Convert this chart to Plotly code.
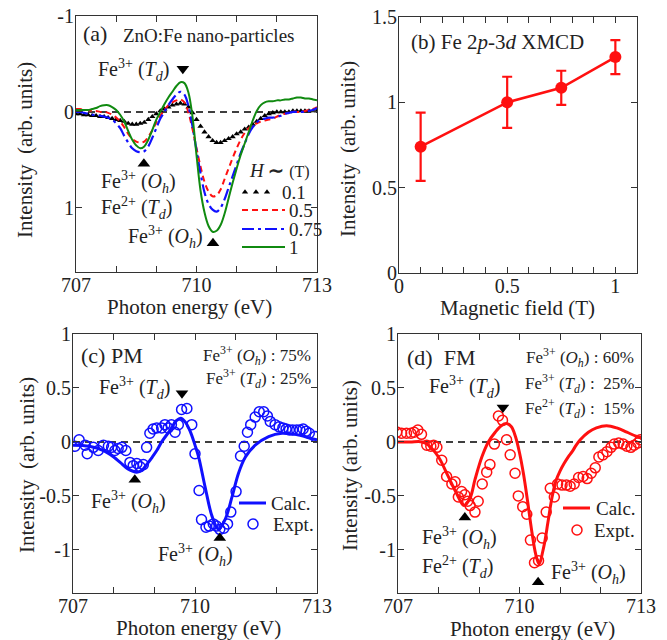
import numpy as np
import plotly.graph_objects as go

W, H = 667, 640
FONT = "Liberation Serif"
TXT = "#222222"

# ---------------- data ----------------
# panel (a): XMCD spectra vs field (0.1 eV grid 707..713)
energy_a = np.round(np.arange(707.0, 713.0001, 0.1), 1)
xmcd_01 = [0.02, 0.02, 0.03, 0.03, 0.04, 0.04, 0.05, 0.05, 0.06, 0.07,
           0.08, 0.09, 0.10, 0.12, 0.13, 0.13, 0.12, 0.11, 0.08, 0.05,
           0.02, -0.01, -0.03, -0.05, -0.07, -0.08, -0.09, -0.08, -0.05, 0.01,
           0.08, 0.15, 0.21, 0.26, 0.30, 0.32, 0.32, 0.30, 0.28, 0.26,
           0.23, 0.21, 0.18, 0.16, 0.13, 0.10, 0.07, 0.04, 0.02, 0.01,
           0.0, 0.0, 0.0, 0.0, -0.01, -0.01, -0.01, -0.01, -0.01, -0.01,
           -0.01]
xmcd_05 = [-0.03, -0.03, -0.02, -0.02, -0.01, -0.01, 0.0, 0.0, 0.01, 0.03,
           0.06, 0.10, 0.16, 0.23, 0.28, 0.31, 0.32, 0.31, 0.26, 0.19,
           0.11, 0.04, -0.02, -0.07, -0.10, -0.12, -0.13, -0.10, 0.01, 0.18,
           0.38, 0.57, 0.73, 0.83, 0.88, 0.87, 0.81, 0.70, 0.59, 0.48,
           0.38, 0.29, 0.22, 0.17, 0.14, 0.12, 0.10, 0.09, 0.08, 0.07,
           0.05, 0.03, 0.02, 0.01, 0.0, 0.0, 0.0, -0.01, -0.02, -0.03,
           -0.05]
xmcd_075 = [0.0, 0.0, 0.01, 0.02, 0.03, 0.03, 0.04, 0.05, 0.06, 0.08,
            0.12, 0.17, 0.25, 0.32, 0.38, 0.41, 0.42, 0.41, 0.36, 0.27,
            0.17, 0.07, 0.0, -0.07, -0.13, -0.18, -0.21, -0.18, -0.06, 0.15,
            0.40, 0.64, 0.84, 0.96, 1.02, 1.04, 1.00, 0.91, 0.79, 0.67,
            0.55, 0.43, 0.33, 0.23, 0.16, 0.11, 0.08, 0.07, 0.06, 0.06,
            0.05, 0.04, 0.02, 0.01, 0.0, 0.0, 0.0, 0.0, -0.01, -0.02,
            -0.04]
xmcd_1 = [-0.02, -0.02, -0.02, -0.02, -0.03, -0.04, -0.06, -0.07, -0.07, -0.05,
          -0.02, 0.03, 0.10, 0.20, 0.29, 0.35, 0.38, 0.36, 0.29, 0.19,
          0.08, 0.0, -0.08, -0.15, -0.21, -0.27, -0.31, -0.30, -0.20, 0.05,
          0.45, 0.82, 1.05, 1.19, 1.25, 1.24, 1.18, 1.06, 0.90, 0.74,
          0.59, 0.45, 0.33, 0.21, 0.09, -0.01, -0.07, -0.10, -0.11, -0.11,
          -0.12, -0.12, -0.13, -0.13, -0.14, -0.15, -0.15, -0.14, -0.14, -0.13,
          -0.12]
field_labels = ["0.1", "0.5", "0.75", "1"]

# feature markers (a)
a_down_x, a_down_y = [709.66], [-0.45]
a_up_x, a_up_y = [708.69, 710.41], [0.54, 1.37]

# panel (b): XMCD intensity vs field
field_b = [0.1, 0.5, 0.75, 1.0]
intensity_b = [0.74, 1.00, 1.085, 1.265]
error_b = [0.20, 0.15, 0.10, 0.10]

# panel (c): PM
calc_c_x = [707.0, 707.4, 707.75, 708.0, 708.16, 708.35, 708.57, 708.7, 708.81, 708.95,
            709.06, 709.18, 709.39, 709.55, 709.65, 709.75, 709.88, 710.0, 710.09, 710.25,
            710.42, 710.58, 710.74, 710.91, 711.07, 711.24, 711.48, 711.81, 712.14, 712.47,
            712.88, 713.0]
calc_c_y = [-0.03, -0.04, -0.08, -0.14, -0.19, -0.25, -0.28, -0.26, -0.21, -0.14,
            -0.08, 0.0, 0.11, 0.20, 0.22, 0.19, 0.10, -0.03, -0.14, -0.42,
            -0.69, -0.81, -0.72, -0.51, -0.29, -0.14, -0.03, 0.05, 0.08, 0.07,
            0.03, 0.02]
expt_c_x = [707.05, 707.15, 707.30, 707.35, 707.50, 707.62, 707.75, 707.87, 707.95, 708.03,
            708.11, 708.20, 708.30, 708.40, 708.48, 708.57, 708.65, 708.73, 708.81, 708.89,
            708.97, 709.06, 709.18, 709.26, 709.34, 709.42, 709.51, 709.59, 709.67, 709.80,
            709.92, 710.00, 710.10, 710.16, 710.27, 710.35, 710.45, 710.53, 710.61, 710.71,
            710.80, 710.88, 711.01, 711.12, 711.21, 711.29, 711.37, 711.48, 711.58, 711.69,
            711.78, 711.85, 711.97, 712.07, 712.16, 712.24, 712.32, 712.40, 712.50, 712.58,
            712.66, 712.73, 712.81, 712.95]
expt_c_y = [-0.04, 0.02, -0.03, -0.11, -0.05, -0.08, -0.03, -0.04, -0.05, -0.08,
            -0.06, -0.05, -0.08, -0.19, -0.22, -0.20, -0.23, -0.21, -0.05, 0.08,
            0.12, 0.13, 0.13, 0.16, 0.13, 0.16, 0.09, 0.16, 0.30, 0.31,
            0.16, -0.11, -0.45, -0.72, -0.79, -0.78, -0.76, -0.78, -0.81, -0.80,
            -0.76, -0.65, -0.46, -0.13, -0.04, 0.09, 0.16, 0.23, 0.28, 0.28,
            0.24, 0.19, 0.16, 0.14, 0.13, 0.12, 0.11, 0.11, 0.11, 0.11,
            0.12, 0.10, 0.08, 0.05]
c_down_x, c_down_y = [709.68], [0.45]
c_up_x, c_up_y = [708.52, 710.61], [-0.35, -0.89]

# panel (d): FM
calc_d_x = [707.0, 707.3, 707.6, 707.75, 708.0, 708.24, 708.45, 708.63, 708.78, 708.9,
            709.07, 709.23, 709.4, 709.55, 709.68, 709.8, 709.9, 710.0, 710.1, 710.2,
            710.3, 710.4, 710.48, 710.6, 710.7, 710.8, 710.9, 711.0, 711.1, 711.2,
            711.3, 711.4, 711.5, 711.7, 711.9, 712.15, 712.4, 712.65, 712.9, 713.0]
calc_d_y = [0.0, 0.0, 0.0, -0.03, -0.14, -0.32, -0.48, -0.59, -0.52, -0.35,
            -0.14, 0.0, 0.09, 0.15, 0.17, 0.14, 0.05, -0.10, -0.30, -0.55,
            -0.82, -1.04, -1.13, -0.97, -0.75, -0.52, -0.36, -0.27, -0.20, -0.14,
            -0.09, -0.03, 0.02, 0.09, 0.13, 0.15, 0.13, 0.09, 0.05, 0.04]
expt_d_x = [706.97, 707.09, 707.21, 707.32, 707.40, 707.49, 707.58, 707.71, 707.81, 707.88,
            707.96, 708.08, 708.20, 708.33, 708.41, 708.49, 708.57, 708.65, 708.72, 708.78,
            708.90, 708.98, 709.08, 709.19, 709.27, 709.38, 709.48, 709.58, 709.68, 709.77,
            709.89, 709.97, 710.08, 710.18, 710.27, 710.37, 710.47, 710.56, 710.66, 710.76,
            710.86, 710.94, 711.05, 711.16, 711.25, 711.35, 711.46, 711.57, 711.67, 711.77,
            711.87, 711.96, 712.06, 712.16, 712.26, 712.34, 712.45, 712.56, 712.65, 712.75,
            712.83, 712.92, 712.98]
expt_d_y = [0.09, 0.08, 0.08, 0.08, 0.09, 0.11, 0.07, -0.03, -0.04, -0.03,
            -0.05, -0.17, -0.32, -0.39, -0.37, -0.51, -0.46, -0.49, -0.55, -0.59,
            -0.65, -0.55, -0.39, -0.28, -0.21, -0.02, 0.24, 0.20, 0.02, -0.12,
            -0.29, -0.50, -0.60, -0.67, -0.91, -1.12, -1.10, -0.89, -0.65, -0.43,
            -0.51, -0.39, -0.40, -0.40, -0.41, -0.39, -0.33, -0.32, -0.34, -0.29,
            -0.24, -0.14, -0.12, -0.09, -0.05, -0.02, -0.01, -0.02, -0.04, -0.05,
            -0.03, -0.01, 0.02]
d_down_x, d_down_y = [709.59], [0.32]
d_up_x, d_up_y = [708.65, 710.46], [-0.70, -1.30]

# ---------------- styles ----------------
RED = "#ff1010"
BLUE = "#1010ff"
GREEN = "#108a10"


def fx(p):
    return p / W


def fy(p):
    return 1 - p / H


fig = go.Figure()

# ---- panel (a)
fig.add_trace(go.Scatter(x=energy_a, y=xmcd_01, mode="markers", xaxis="x", yaxis="y",
                         marker=dict(symbol="triangle-up", size=5.5, color="black")))
fig.add_trace(go.Scatter(x=energy_a, y=xmcd_05, mode="lines", xaxis="x", yaxis="y",
                         line=dict(color=RED, width=2, dash="6px,4px", shape="spline")))
fig.add_trace(go.Scatter(x=energy_a, y=xmcd_075, mode="lines", xaxis="x", yaxis="y",
                         line=dict(color=BLUE, width=2.2, dash="12px,4px,3px,4px", shape="spline")))
fig.add_trace(go.Scatter(x=energy_a, y=xmcd_1, mode="lines", xaxis="x", yaxis="y",
                         line=dict(color=GREEN, width=2, shape="spline")))

# ---- panel (b)
fig.add_trace(go.Scatter(x=field_b, y=intensity_b, mode="lines+markers", xaxis="x2", yaxis="y2",
                         line=dict(color=RED, width=2.5),
                         marker=dict(size=12, color=RED),
                         error_y=dict(type="data", array=error_b, color=RED, thickness=2.2, width=5)))

# ---- panel (c)
fig.add_trace(go.Scatter(x=calc_c_x, y=calc_c_y, mode="lines", xaxis="x3", yaxis="y3",
                         line=dict(color=BLUE, width=3, shape="spline")))
fig.add_trace(go.Scatter(x=expt_c_x, y=expt_c_y, mode="markers", xaxis="x3", yaxis="y3",
                         marker=dict(symbol="circle-open", size=10, color=BLUE, line=dict(width=1.5, color=BLUE))))

# ---- panel (d)
fig.add_trace(go.Scatter(x=calc_d_x, y=calc_d_y, mode="lines", xaxis="x4", yaxis="y4",
                         line=dict(color=RED, width=3, shape="spline")))
fig.add_trace(go.Scatter(x=expt_d_x, y=expt_d_y, mode="markers", xaxis="x4", yaxis="y4",
                         marker=dict(symbol="circle-open", size=10, color=RED, line=dict(width=1.5, color=RED))))

# feature triangles
for xs, ys, sym, xa, ya in [
    (a_down_x, a_down_y, "triangle-down", "x", "y"),
    (a_up_x, a_up_y, "triangle-up", "x", "y"),
    (c_down_x, c_down_y, "triangle-down", "x3", "y3"),
    (c_up_x, c_up_y, "triangle-up", "x3", "y3"),
    (d_down_x, d_down_y, "triangle-down", "x4", "y4"),
    (d_up_x, d_up_y, "triangle-up", "x4", "y4"),
]:
    fig.add_trace(go.Scatter(x=xs, y=ys, mode="markers", xaxis=xa, yaxis=ya,
                             marker=dict(symbol=sym, size=11, color="black")))

# ---- legend samples on a full-figure pixel overlay axis
leg = dict(xaxis="x5", yaxis="y5", hoverinfo="skip")
fig.add_trace(go.Scatter(x=[245, 256, 267], y=[192, 192, 192], mode="markers",
                         marker=dict(symbol="triangle-up", size=5.5, color="black"), **leg))
fig.add_trace(go.Scatter(x=[242, 285], y=[210, 210], mode="lines",
                         line=dict(color=RED, width=2, dash="6px,4px"), **leg))
fig.add_trace(go.Scatter(x=[242, 285], y=[229, 229], mode="lines",
                         line=dict(color=BLUE, width=2.2, dash="12px,4px,3px,4px"), **leg))
fig.add_trace(go.Scatter(x=[242, 285], y=[247, 247], mode="lines",
                         line=dict(color=GREEN, width=2), **leg))
fig.add_trace(go.Scatter(x=[239, 266], y=[503, 503], mode="lines",
                         line=dict(color=BLUE, width=3), **leg))
fig.add_trace(go.Scatter(x=[253], y=[524], mode="markers",
                         marker=dict(symbol="circle-open", size=10, color=BLUE, line=dict(width=1.5, color=BLUE)), **leg))
fig.add_trace(go.Scatter(x=[563, 590], y=[508, 508], mode="lines",
                         line=dict(color=RED, width=3), **leg))
fig.add_trace(go.Scatter(x=[577], y=[530], mode="markers",
                         marker=dict(symbol="circle-open", size=10, color=RED, line=dict(width=1.5, color=RED)), **leg))

# ---------------- axes ----------------
AX = dict(showline=True, linecolor="#333333", linewidth=1.2, mirror="ticks",
          ticks="inside", ticklen=6, tickwidth=1.2, tickcolor="#333333",
          showgrid=False, zeroline=False, automargin=False, tickangle=0,
          tickfont=dict(family=FONT, size=20, color=TXT))
XAX = dict(AX, ticklabelstandoff=-5)
YAX = dict(AX, ticklabelstandoff=-3)
MINOR_E = dict(ticks="inside", tick0=707, dtick=1, ticklen=6, tickwidth=1.2,
               tickcolor="#333333", showgrid=False)

fig.update_layout(
    xaxis=dict(XAX, domain=[fx(76), fx(317)], range=[707, 713], anchor="y",
               tickvals=[707, 710, 713], ticktext=["707", "710", "713"], minor=MINOR_E),
    yaxis=dict(YAX, domain=[fy(272), fy(16)], range=[1.67, -1], anchor="x",
               tickvals=[-1, 0, 1], ticktext=["-1", "0", "1"]),
    xaxis2=dict(XAX, domain=[fx(399), fx(637)], range=[0, 1.1], anchor="y2",
                tickvals=[0, 0.5, 1], ticktext=["0", "0.5", "1"],
                minor=dict(MINOR_E, tick0=0, dtick=0.1)),
    yaxis2=dict(YAX, domain=[fy(273), fy(17)], range=[0, 1.5], anchor="x2",
                tickvals=[0, 0.5, 1, 1.5], ticktext=["0", "0.5", "1", "1.5"]),
    xaxis3=dict(XAX, domain=[fx(73), fx(317)], range=[707, 713], anchor="y3",
                tickvals=[707, 710, 713], ticktext=["707", "710", "713"], minor=MINOR_E),
    yaxis3=dict(YAX, domain=[fy(593), fy(334)], range=[-1.4, 1], anchor="x3",
                tickvals=[-1, -0.5, 0, 0.5, 1], ticktext=["-1", "-0.5", "0", "0.5", "1"]),
    xaxis4=dict(XAX, domain=[fx(398), fx(641)], range=[707, 713], anchor="y4",
                tickvals=[707, 710, 713], ticktext=["707", "710", "713"], minor=MINOR_E),
    yaxis4=dict(YAX, domain=[fy(593), fy(334)], range=[-1.4, 1], anchor="x4",
                tickvals=[-1, -0.5, 0, 0.5, 1], ticktext=["-1", "-0.5", "0", "0.5", "1"]),
    xaxis5=dict(domain=[0, 1], range=[0, W], visible=False, anchor="y5", fixedrange=True),
    yaxis5=dict(domain=[0, 1], range=[H, 0], visible=False, anchor="x5", fixedrange=True),
)

# zero reference lines
for xr, yr in [("x", "y"), ("x3", "y3"), ("x4", "y4")]:
    fig.add_shape(type="line", xref=f"{xr} domain", yref=yr, x0=0, x1=1, y0=0, y1=0,
                  line=dict(color="black", width=1.5, dash="7px,5px"), layer="below")

# ---------------- texts ----------------
ann = []


def T(text, x, y, size=19, xanchor="left", angle=0):
    ann.append(dict(text=text, x=fx(x), y=fy(y), xref="paper", yref="paper",
                    xanchor=xanchor, yanchor="middle", showarrow=False, textangle=angle,
                    font=dict(family=FONT, size=size, color=TXT)))


FE3O = "Fe<sup>3+</sup> (<i>O</i><sub><i>h</i></sub>)"
FE3T = "Fe<sup>3+</sup> (<i>T</i><sub><i>d</i></sub>)"
FE2T = "Fe<sup>2+</sup> (<i>T</i><sub><i>d</i></sub>)"

# axis titles
T("Intensity  (arb. units)", 25, 150, 21, "center", -90)
T("Intensity  (arb. units)", 348, 149, 21, "center", -90)
T("Intensity  (arb. units)", 27, 465, 21, "center", -90)
T("Intensity (arb. units)", 350, 465, 21, "center", -90)
T("Photon energy (eV)", 189, 307, 21, "center")
T("Magnetic field (T)", 517, 308, 21, "center")
T("Photon energy (eV)", 199, 628, 21, "center")
T("Photon energy (eV)", 532, 629, 21, "center")

# panel (a)
T("(a)", 81, 34, 22)
T("ZnO:Fe nano-particles", 121, 35, 19)
T(FE3T, 96, 70, 20)
T(FE3O, 99, 182, 20)
T(FE2T, 99, 208, 20)
T(FE3O, 126, 237, 20)
T("<i>H</i> <b>∼</b> <span style='font-size:16px'>(T)</span>", 247, 170, 19)
for lab, yy, xx in zip(field_labels, [192, 210, 229, 247], [280, 287, 287, 287]):
    T(lab, xx, yy, 19)

# panel (b)
T("(b) Fe 2<i>p</i>-3<i>d</i> XMCD", 409, 42, 21)

# panel (c)
T("(c) PM", 79, 355, 22)
T(FE3O + " : 75%", 313, 355, 17, "right")
T(FE3T + " : 25%", 313, 378, 17, "right")
T(FE3T, 97, 388, 20)
T(FE3O, 89, 502, 20)
T(FE3O, 156, 555, 20)
T("Calc.", 269, 503, 19)
T("Expt.", 271, 524, 19)

# panel (d)
T("(d)  FM", 405, 357, 22)
T(FE3O + " : 60%", 636, 357, 17, "right")
T(FE3T + " :  25%", 636, 383, 17, "right")
T(FE2T + " :  15%", 636, 408, 17, "right")
T(FE3T, 427, 387, 20)
T(FE3O, 420, 538, 20)
T(FE2T, 420, 567, 20)
T(FE3O, 549, 573, 20)
T("Calc.", 594, 508, 19)
T("Expt.", 592, 530, 19)

fig.update_layout(
    annotations=ann,
    width=W, height=H,
    margin=dict(l=0, r=0, t=0, b=0),
    showlegend=False,
    template="none",
    paper_bgcolor="white",
    plot_bgcolor="rgba(0,0,0,0)",
    font=dict(family=FONT, color=TXT),
)

fig.write_html("out.html")
